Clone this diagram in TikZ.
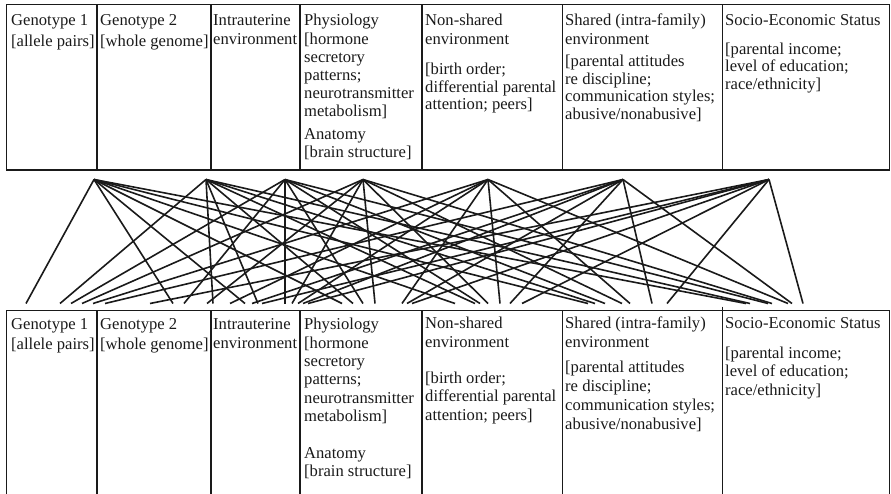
\documentclass[tikz,border=0pt]{standalone}
\usepackage{fontspec}
\setmainfont{Liberation Serif}
\usepackage{xcolor}
\definecolor{ink}{HTML}{1A1A1A}
% one text column of a table: prefix, left edge, list of baseline/line pairs
\newcommand\cellrows[3]{%
  \foreach \yy/\tx [count=\k] in {#3} {\node[lbl] (#1-\k) at (#2,\yy) {\tx};}}
\begin{document}
\begin{tikzpicture}[x=1pt,y=-1pt,
  rule/.style={draw=ink,line width=1.1pt},
  link/.style={draw=ink,line width=1.6pt},
  lbl/.style={anchor=base west,inner sep=0pt,text=ink,font=\fontsize{16.6}{18.5}\selectfont}]
\useasboundingbox (0,0) rectangle (891,494);

% upper table
\draw[rule] (6.7,4.7) rectangle (889.5,170);
\foreach \xx in {97,211,300,422,562.7,722.7} \draw[rule] (\xx,4.7) -- (\xx,170);
% lower table (open at the bottom)
\draw[rule] (6.7,494) -- (6.7,310.7) -- (889.5,310.7) -- (889.5,494);
\foreach \xx in {97,211,300,422,562.7} \draw[rule] (\xx,310.7) -- (\xx,494);
\draw[rule] (722.7,306.5) -- (722.7,494);

% upper table text
\cellrows{tga}{11}{26/Genotype 1, 47/{[allele pairs]}}
\cellrows{tgb}{100}{26/Genotype 2, 47/{[whole genome]}}
\cellrows{tiu}{213}{26/Intrauterine, 44.5/environment}
\cellrows{tph}{304}{26/Physiology, 44.5/{[hormone}, 62.5/secretory, 80.5/patterns;, 98.5/neurotransmitter, 116.5/{metabolism]}, 139.5/Anatomy, 158/{[brain structure]}}
\cellrows{tns}{425}{26/Non-shared, 44.5/environment, 75/{[birth order;}, 92.5/differential parental, 110/{attention; peers]}}
\cellrows{tsh}{565}{26/Shared (intra-family), 44.5/environment, 67/{[parental attitudes}, 84.5/re discipline;, 102/communication styles;, 119.5/{abusive/nonabusive]}}
\cellrows{tse}{725}{26/Socio-Economic Status, 54.5/{[parental income;}, 72/level of education;, 89.5/{race/ethnicity]}}

% lower table text
\cellrows{bga}{11}{329.5/Genotype 1, 349.5/{[allele pairs]}}
\cellrows{bgb}{100}{329.5/Genotype 2, 349.5/{[whole genome]}}
\cellrows{biu}{213}{329.5/Intrauterine, 348.5/environment}
\cellrows{bph}{304}{329.5/Physiology, 348.5/{[hormone}, 366.5/secretory, 384.5/patterns;, 403/neurotransmitter, 421/{metabolism]}, 458.5/Anatomy, 476.5/{[brain structure]}}
\cellrows{bns}{425}{328.5/Non-shared, 347/environment, 383/{[birth order;}, 401.5/differential parental, 420/{attention; peers]}}
\cellrows{bsh}{565}{328.5/Shared (intra-family), 347/environment, 372/{[parental attitudes}, 391/re discipline;, 410/communication styles;, 429.5/{abusive/nonabusive]}}
\cellrows{bse}{725}{328.5/Socio-Economic Status, 358/{[parental income;}, 376.5/level of education;, 395/{race/ethnicity]}}

% every upper column is linked with every lower column
\foreach \i/\xx in {1/94,2/206,3/285,4/363,5/488,6/623,7/769}
  \coordinate (a\i) at (\xx,179.5);
\foreach \j/\ends in {1/{26,60,71,82,93,105,150},
                      2/{173,213,184,207,230,252,262},
                      3/{245,258,285,292,298,303,308},
                      4/{342,353,363,375,402,407,412},
                      5/{455,475,480,488,500,510,522},
                      6/{588,595,605,622,630,652,667},
                      7/{746,750,768,772,788,792,803}}
  \foreach \xx [count=\i] in \ends {
    \coordinate (e\i-\j) at (\xx,303.5);
    \draw[link] (a\i) -- (e\i-\j);
  }
\end{tikzpicture}
\end{document}
